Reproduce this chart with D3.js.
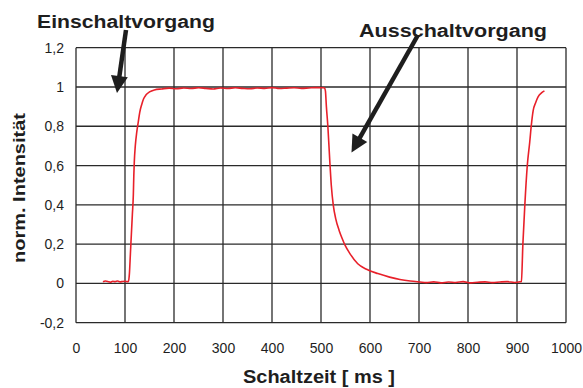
<!DOCTYPE html>
<html>
<head>
<meta charset="utf-8">
<script src="https://cdn.jsdelivr.net/npm/d3@7"></script>
<style>
  html, body { margin: 0; padding: 0; background: #fff; }
  svg { display: block; }
  text { font-family: "Liberation Sans", Arial, Helvetica, sans-serif; fill: #1e1e1e; }
</style>
</head>
<body>
<svg id="chart" width="583" height="388"></svg>
<script>
// Measured switching curve: time in ms, normalised intensity
const timeMs = [
  55, 60, 65, 70, 75, 80, 85, 90, 95, 100, 105,
  107, 109, 111, 113, 115, 117, 118, 119, 121, 124, 127, 130, 134, 138, 143, 150, 160, 175,
  190, 205, 220, 235, 250, 265, 280, 295, 310, 325, 340, 355, 370, 385, 400, 415, 430, 445, 460, 475, 490, 505,
  507, 509, 511, 514, 518, 521, 525, 530, 537, 543, 549, 559, 575, 593, 616, 640, 661, 682, 702,
  715, 730, 745, 760, 775, 790, 805, 820, 835, 850, 865, 880, 895, 906,
  909, 912, 916, 921, 926, 929, 933, 938, 943, 950, 956
];
const intensity = [
  0.008, 0.012, 0.010, 0.006, 0.011, 0.009, 0.012, 0.008, 0.010, 0.011, 0.009,
  0.010, 0.05, 0.15, 0.25, 0.35, 0.45, 0.55, 0.62, 0.70, 0.77, 0.82, 0.87, 0.91, 0.94, 0.96, 0.975, 0.985, 0.990,
  0.994, 0.991, 0.995, 0.992, 0.996, 0.993, 0.990, 0.995, 0.992, 0.996, 0.993, 0.991, 0.995, 0.993, 0.997, 0.992, 0.994, 0.996, 0.993, 0.995, 0.997, 0.996,
  0.995, 0.98, 0.90, 0.80, 0.62, 0.50, 0.40, 0.33, 0.27, 0.23, 0.195, 0.152, 0.10, 0.072, 0.05, 0.032, 0.02, 0.012, 0.007,
  0.004, 0.008, 0.003, 0.007, 0.005, 0.009, 0.003, 0.006, 0.008, 0.004, 0.007, 0.009, 0.005, 0.008,
  0.010, 0.20, 0.40, 0.60, 0.72, 0.80, 0.88, 0.92, 0.95, 0.97, 0.98
];
const xTicks = [0, 100, 200, 300, 400, 500, 600, 700, 800, 900, 1000];
const yTicks = [-0.2, 0, 0.2, 0.4, 0.6, 0.8, 1, 1.2];
const xTitle = "Schaltzeit [ ms ]";
const yTitle = "norm. Intensität";
const noteOn = "Einschaltvorgang";
const noteOff = "Ausschaltvorgang";

const svg = d3.select("#chart");
const x = d3.scaleLinear().domain([0, 1000]).range([76, 566]);
const y = d3.scaleLinear().domain([-0.2, 1.2]).range([322.7, 47.7]);

// German decimal comma, ASCII hyphen for negatives
const fmt = v => {
  const r = Math.round(v * 10) / 10;
  return (Math.abs(r) < 1e-9 ? "0" : String(r)).replace(".", ",");
};

// grid + frame
const grid = svg.append("g").attr("stroke", "#2a2a2a").attr("stroke-width", 1.3);
grid.selectAll("line.v").data(xTicks).join("line")
  .attr("x1", d => x(d)).attr("x2", d => x(d))
  .attr("y1", y(1.2)).attr("y2", y(-0.2));
grid.selectAll("line.h").data(yTicks).join("line")
  .attr("x1", x(0)).attr("x2", x(1000))
  .attr("y1", d => y(d)).attr("y2", d => y(d));

// axes built with d3-axis, lines hidden (grid draws them)
const xAxis = svg.append("g").attr("transform", `translate(0,${y(-0.2)})`)
  .call(d3.axisBottom(x).tickValues(xTicks).tickSize(0).tickPadding(20).tickFormat(d => String(d)));
const yAxis = svg.append("g").attr("transform", `translate(${x(0)},0)`)
  .call(d3.axisLeft(y).tickValues(yTicks).tickSize(0).tickPadding(12).tickFormat(fmt));
[xAxis, yAxis].forEach(a => {
  a.select(".domain").remove();
  a.selectAll("text").attr("font-size", 14).attr("fill", "#1e1e1e")
    .attr("font-family", "'Liberation Sans', Arial, sans-serif");
});

// curve
const pts = timeMs.map((t, i) => [t, intensity[i]]);
svg.append("path")
  .datum(pts)
  .attr("fill", "none")
  .attr("stroke", "#e8202a")
  .attr("stroke-width", 1.6)
  .attr("stroke-linejoin", "round")
  .attr("d", d3.line().x(d => x(d[0])).y(d => y(d[1])).curve(d3.curveMonotoneX));

// axis titles
svg.append("text")
  .attr("x", 319).attr("y", 383)
  .attr("text-anchor", "middle")
  .attr("font-size", 18).attr("font-weight", "bold")
  .attr("textLength", 152).attr("lengthAdjust", "spacingAndGlyphs")
  .text(xTitle);
svg.append("text")
  .attr("transform", "translate(25,188) rotate(-90)")
  .attr("text-anchor", "middle")
  .attr("font-size", 16.5).attr("font-weight", "bold")
  .attr("textLength", 150).attr("lengthAdjust", "spacingAndGlyphs")
  .text(yTitle);

// annotations
svg.append("text")
  .attr("x", 37).attr("y", 27.5)
  .attr("font-size", 18).attr("font-weight", "bold")
  .attr("textLength", 178).attr("lengthAdjust", "spacingAndGlyphs")
  .text(noteOn);
svg.append("text")
  .attr("x", 359).attr("y", 37)
  .attr("font-size", 18).attr("font-weight", "bold")
  .attr("textLength", 188).attr("lengthAdjust", "spacingAndGlyphs")
  .text(noteOff);

function arrow(x0, y0, x1, y1) {
  const dx = x1 - x0, dy = y1 - y0, len = Math.hypot(dx, dy);
  const ux = dx / len, uy = dy / len, px = -uy, py = ux;
  const hl = 17, hw = 8.5;
  const bx = x1 - ux * hl, by = y1 - uy * hl;
  svg.append("line")
    .attr("x1", x0).attr("y1", y0).attr("x2", bx + ux * 2).attr("y2", by + uy * 2)
    .attr("stroke", "#1e1e1e").attr("stroke-width", 4.5);
  svg.append("path")
    .attr("d", `M${x1},${y1}L${bx + px * hw},${by + py * hw}L${bx - px * hw},${by - py * hw}Z`)
    .attr("fill", "#1e1e1e");
}
arrow(126, 30, 117, 93);
arrow(418, 35, 351.5, 152.5);
</script>
</body>
</html>
